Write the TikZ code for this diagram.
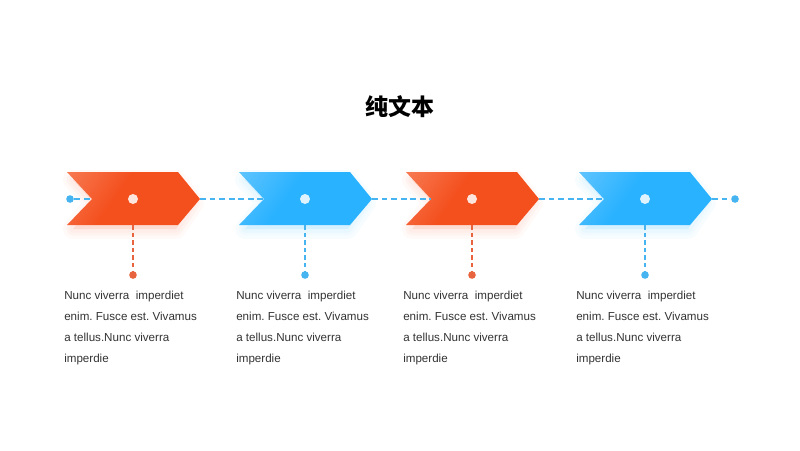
\documentclass[tikz,border=0pt]{standalone}
\usepackage{fontspec}
\setmainfont{Liberation Sans}
\newfontfamily\cjk{Noto Sans CJK SC}
\usetikzlibrary{positioning}
\definecolor{orgL}{RGB}{249,145,112}
\definecolor{orgD}{RGB}{244,80,30}
\definecolor{bluL}{RGB}{125,206,255}
\definecolor{bluD}{RGB}{41,178,255}
\definecolor{linkblue}{RGB}{70,180,240}
\definecolor{pinorgc}{RGB}{232,100,62}
\definecolor{txtgray}{RGB}{51,51,51}
\pgfdeclarehorizontalshading{chevorg}{100bp}{color(0bp)=(orgL); color(42bp)=(orgD); color(100bp)=(orgD)}
\pgfdeclarehorizontalshading{chevblu}{100bp}{color(0bp)=(bluL); color(42bp)=(bluD); color(100bp)=(bluD)}
\newcommand{\stepnote}{Nunc viverra~ imperdiet\\enim. Fusce est. Vivamus\\a tellus.Nunc viverra\\imperdie}

\begin{document}
\begin{tikzpicture}[x=0.025cm,y=-0.025cm,
  arroworg/.style={shading=chevorg,shading angle=-35},
  arrowblu/.style={shading=chevblu,shading angle=-35},
  glowc/.style={opacity=0.035,line join=round},
  link/.style={draw=linkblue,line width=0.85pt,dash pattern=on 4.2pt off 2.6pt},
  droporg/.style={draw=pinorgc,line width=0.85pt,dash pattern=on 3.2pt off 2.2pt},
  dropblu/.style={draw=linkblue,line width=0.85pt,dash pattern=on 3.2pt off 2.2pt},
  dotw/.style={circle,fill=white,fill opacity=0.85,inner sep=0pt,minimum size=0.25cm},
  pinorg/.style={circle,fill=pinorgc,inner sep=0pt,minimum size=0.19cm},
  pinblu/.style={circle,fill=linkblue,inner sep=0pt,minimum size=0.19cm},
  txt/.style={anchor=north west,align=left,inner sep=0pt,text=txtgray,
    font=\fontsize{8.25}{14.9}\selectfont\frenchspacing}]
  \useasboundingbox (0,0) rectangle (800,450);
  \node[font=\cjk\bfseries\fontsize{16.3}{16.3}\selectfont] (title) at (400,107) {纯文本};
  % four chevrons, left edge at \l
  \foreach \i/\l/\c in {1/67/org,2/239/blu,3/406/org,4/579/blu} {
    \foreach \w in {14,9,5}
      \draw[glowc,draw=\c D,fill=\c D,line width=\w] (\l+6,180) -- (\l+109,180) -- (\l+127,203)
        -- (\l+109,229) -- (\l+6,229) -- (\l+27,203) -- cycle;
    \shade[arrow\c] (\l,172) -- (\l+111,172) -- (\l+133,199) -- (\l+111,225)
      -- (\l,225) -- (\l+25,199) -- cycle;
    \coordinate (notch\i) at (\l+25,199);
    \coordinate (tip\i) at (\l+133,199);
    \coordinate (foot\i) at (\l+66,225);
    \node[dotw] (c\i) at (\l+66,199) {};
    \node[pin\c] (pin\i) at (\l+66,275) {};
    \draw[drop\c] (foot\i) -- (pin\i);
    \node[txt] (txt\i) at (\l-3,291.3) {\stepnote};
  }
  \node[pinblu] (start) at (70,199) {};
  \node[pinblu] (end) at (735,199) {};
  \draw[link] (start) -- (notch1);
  \draw[link] (tip1) -- (notch2);
  \draw[link] (tip2) -- (notch3);
  \draw[link] (tip3) -- (notch4);
  \draw[link] (tip4) -- (end);
\end{tikzpicture}
\end{document}
